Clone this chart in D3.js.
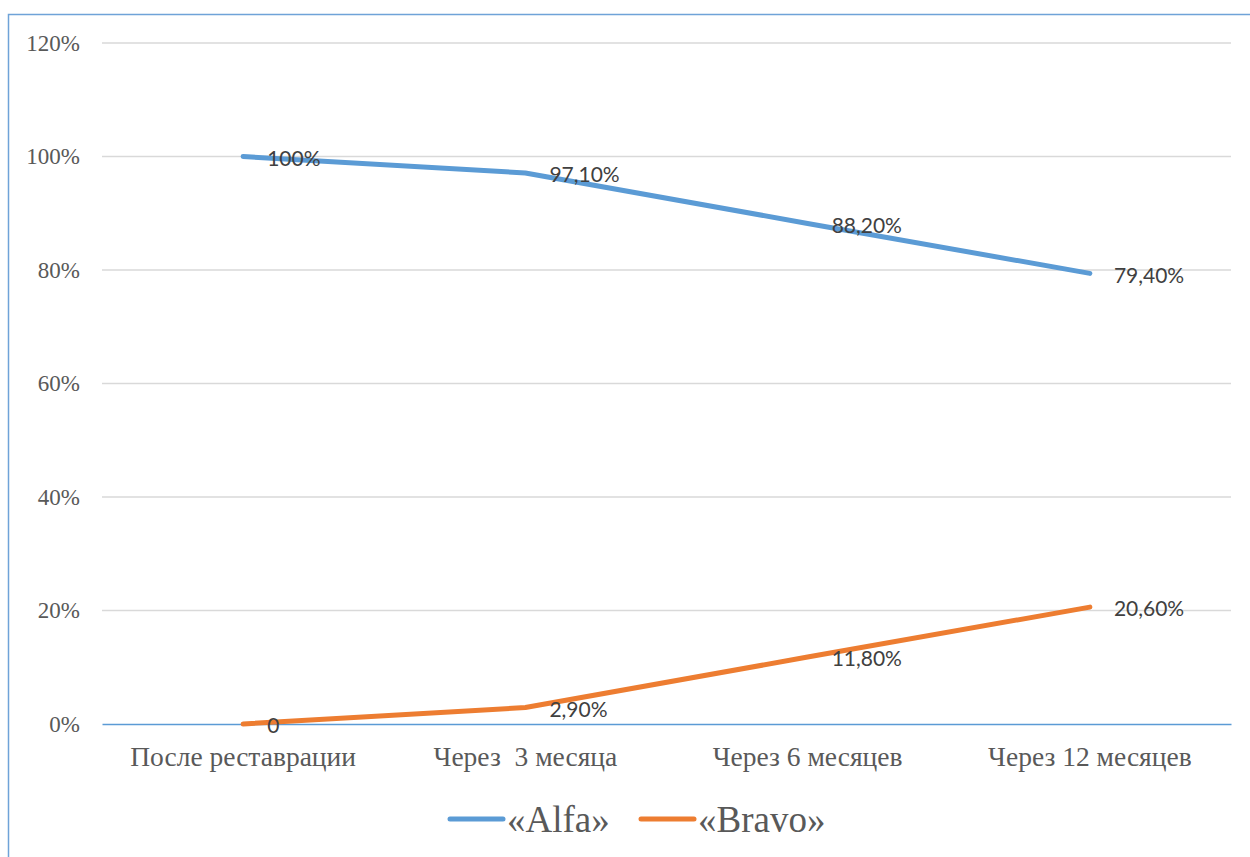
<!DOCTYPE html>
<html>
<head>
<meta charset="utf-8">
<script src="https://cdn.jsdelivr.net/npm/d3@7"></script>
<style>
    html, body { margin: 0; padding: 0; background: #fff; }
    svg { display: block; }
</style>
</head>
<body>
<svg id="chart" width="1250" height="857"></svg>
<script>
const categories = ["После реставрации", "Через  3 месяца", "Через 6 месяцев", "Через 12 месяцев"];
const alfaValues = [100, 97.1, 88.2, 79.4];
const bravoValues = [0, 2.9, 11.8, 20.6];
const alfaLabels = ["100%", "97,10%", "88,20%", "79,40%"];
const bravoLabels = ["0", "2,90%", "11,80%", "20,60%"];
const yTicks = [0, 20, 40, 60, 80, 100, 120];

const series = [
    { name: "«Alfa»", values: alfaValues, labels: alfaLabels, color: "#5B9BD5" },
    { name: "«Bravo»", values: bravoValues, labels: bravoLabels, color: "#ED7D31" }
];

const serif = "'Liberation Serif', 'Times New Roman', serif";
const svg = d3.select("#chart");
const plot = { left: 102, right: 1231, top: 43, bottom: 724 };

// outer frame, runs off the right and bottom edges
svg.append("rect")
    .attr("x", 8.5).attr("y", 14.5)
    .attr("width", 1300).attr("height", 900)
    .attr("fill", "none")
    .attr("stroke", "#6FA3D8")
    .attr("stroke-width", 1.5);

const x = d3.scaleBand()
    .domain(categories)
    .range([plot.left, plot.right]);

const y = d3.scaleLinear()
    .domain([0, 120])
    .range([plot.bottom, plot.top]);

// gridlines
svg.append("g")
    .selectAll("line")
    .data(yTicks.filter(d => d > 0))
    .join("line")
    .attr("x1", plot.left).attr("x2", plot.right)
    .attr("y1", d => y(d)).attr("y2", d => y(d))
    .attr("stroke", "#D9D9D9")
    .attr("stroke-width", 1.5);

// y axis labels
const yAxis = d3.axisLeft(y)
    .tickValues(yTicks)
    .tickFormat(d => d + "%")
    .tickSize(0)
    .tickPadding(22);

svg.append("g")
    .attr("transform", `translate(${plot.left},0)`)
    .call(yAxis)
    .call(g => g.select(".domain").remove())
    .selectAll("text")
    .attr("font-family", serif)
    .attr("font-size", 23)
    .attr("fill", "#595959");

// x axis
const xAxis = d3.axisBottom(x).tickSize(0).tickPadding(22);

svg.append("g")
    .attr("transform", `translate(0,${plot.bottom})`)
    .call(xAxis)
    .call(g => g.select(".domain")
        .attr("stroke", "#5B9BD5")
        .attr("stroke-width", 1.5))
    .selectAll("text")
    .attr("font-family", serif)
    .attr("font-size", 27.5)
    .attr("fill", "#595959")
    .style("white-space", "pre");

const cx = c => x(c) + x.bandwidth() / 2;

const line = d3.line()
    .x((d, i) => cx(categories[i]))
    .y(d => y(d));

svg.append("g")
    .selectAll("path")
    .data(series)
    .join("path")
    .attr("d", s => line(s.values))
    .attr("fill", "none")
    .attr("stroke", s => s.color)
    .attr("stroke-width", 5)
    .attr("stroke-linecap", "round")
    .attr("stroke-linejoin", "round");

// data labels, to the right of each point
series.forEach(s => {
    svg.append("g")
        .selectAll("text")
        .data(s.values)
        .join("text")
        .attr("x", (d, i) => cx(categories[i]) + 24)
        .attr("y", d => y(d) + 2)
        .attr("dy", "0.35em")
        .attr("font-family", "Lato, 'Noto Sans', sans-serif")
        .attr("font-size", 21)
        .attr("fill", "#404040")
        .text((d, i) => s.labels[i]);
});

// legend
const legendItems = [
    { s: series[0], x: 450 },
    { s: series[1], x: 641 }
];
const lg = svg.append("g").attr("transform", "translate(0,819)");
legendItems.forEach(item => {
    lg.append("line")
        .attr("x1", item.x).attr("x2", item.x + 53)
        .attr("y1", 0).attr("y2", 0)
        .attr("stroke", item.s.color)
        .attr("stroke-width", 5)
        .attr("stroke-linecap", "round");
    lg.append("text")
        .attr("x", item.x + 57)
        .attr("y", 0)
        .attr("dy", "0.35em")
        .attr("font-family", serif)
        .attr("font-size", 37)
        .attr("fill", "#595959")
        .text(item.s.name);
});
</script>
</body>
</html>
